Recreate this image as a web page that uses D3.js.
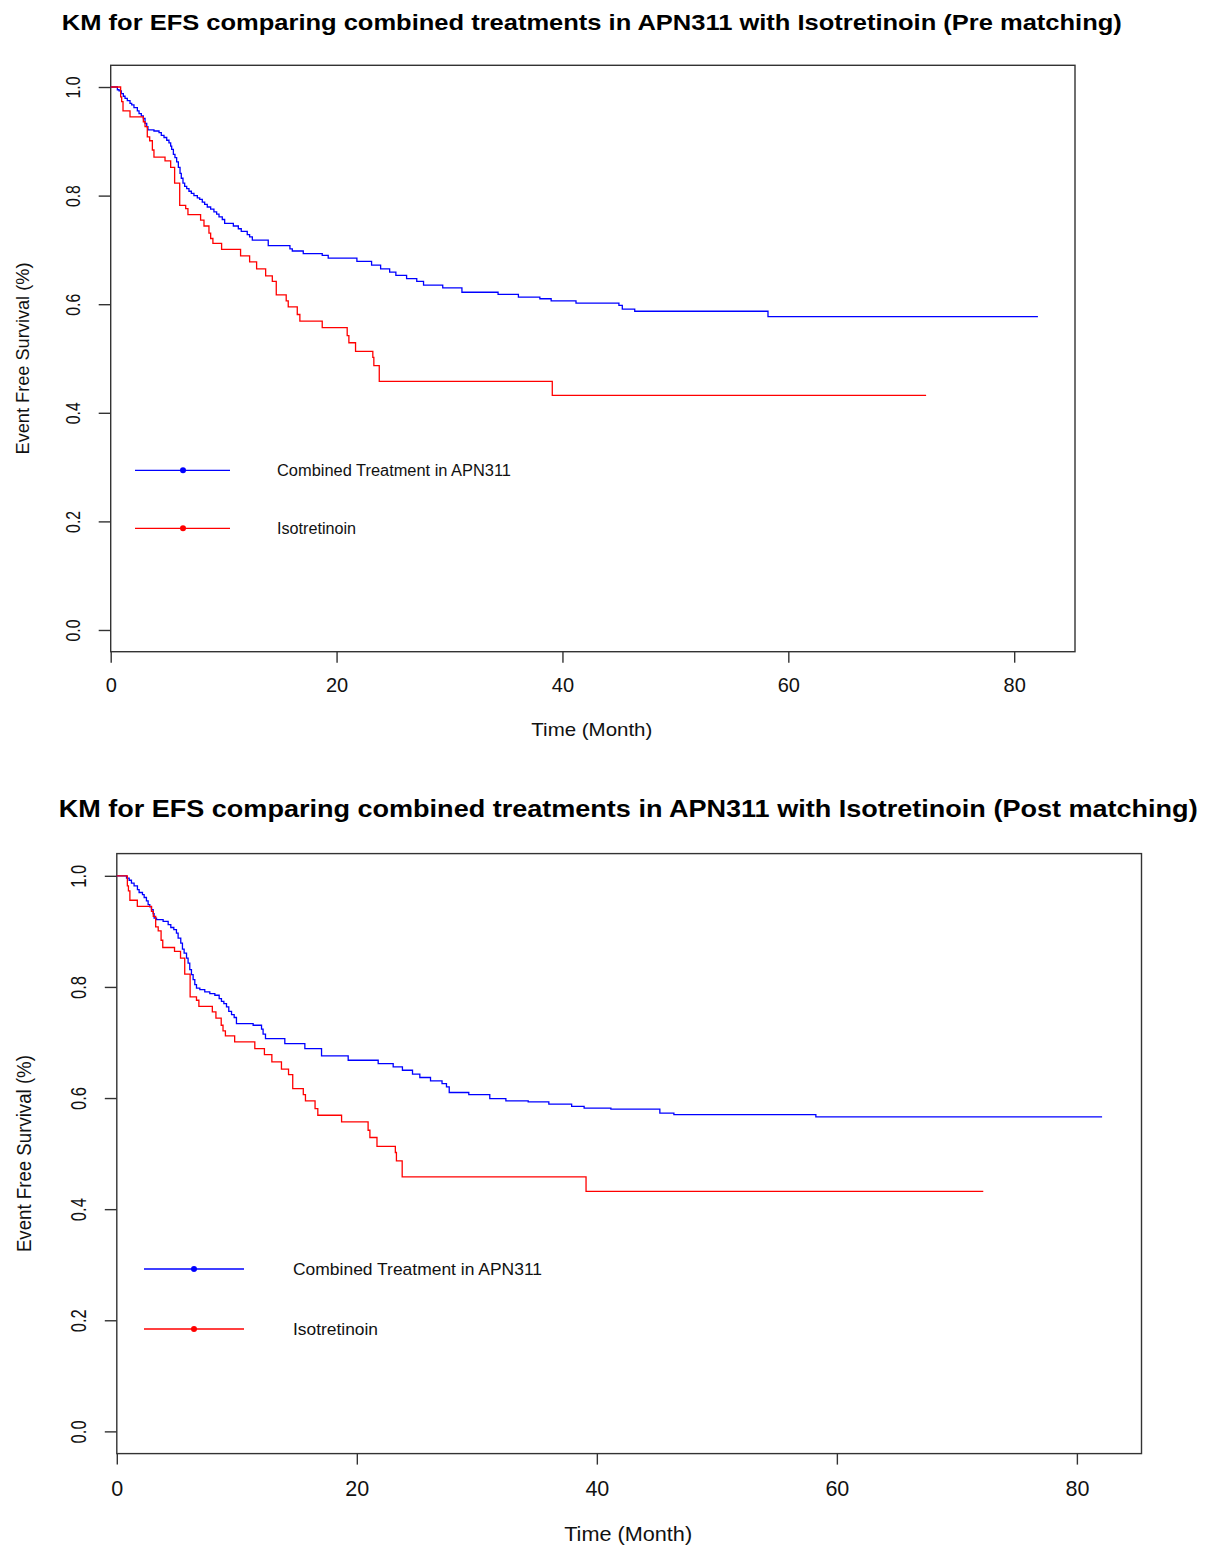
<!DOCTYPE html>
<html>
<head>
<meta charset="utf-8">
<script src="https://cdn.jsdelivr.net/npm/d3@7"></script>
<style>
  html, body { margin: 0; padding: 0; background: #fff; }
  svg { display: block; }
  text { font-family: "Liberation Sans", Arial, Helvetica, sans-serif; fill: #111; }
</style>
</head>
<body>
<script>
// ---------------- DATA ----------------
const titles = [
  "KM for EFS comparing combined treatments in APN311 with Isotretinoin (Pre matching)",
  "KM for EFS comparing combined treatments in APN311 with Isotretinoin (Post matching)"
];
const xAxisTitle = "Time (Month)";
const yAxisTitle = "Event Free Survival (%)";
const seriesNames = ["Combined Treatment in APN311", "Isotretinoin"];
const seriesColors = ["#0000ff", "#ff0000"];
const xTicks = [0, 20, 40, 60, 80];
const yTicks = [0.0, 0.2, 0.4, 0.6, 0.8, 1.0];
const yTickLabels = ["0.0", "0.2", "0.4", "0.6", "0.8", "1.0"];

// Isotretinoin arm (same in both panels): [time (months), survival]
const isotretinoin = [
  [0,1.0],[0.88,0.982],[0.97,0.973],[1.09,0.956],[1.71,0.945],[2.89,0.936],[3.04,0.927],
  [3.24,0.908],[3.45,0.901],[3.69,0.884],[3.83,0.871],[4.81,0.864],[5.31,0.852],[5.66,0.823],
  [6.11,0.782],[6.64,0.776],[6.84,0.765],[7.96,0.755],[8.26,0.744],[8.70,0.731],[8.85,0.721],
  [9.05,0.712],[9.82,0.701],[11.5,0.689],[12.3,0.678],[12.92,0.665],[13.72,0.652],[14.31,0.642],
  [14.66,0.617],[15.54,0.606],[15.72,0.595],[16.52,0.581],[16.75,0.569],[18.73,0.557],
  [20.94,0.542],[21.09,0.529],[21.68,0.513],[23.21,0.502],[23.30,0.487],[23.78,0.458],
  [39.1,0.432],[72.2,0.432]
];

// Combined treatment, pre matching
const combinedPre = [
  [0,1.0],[0.59,0.995],[0.74,0.993],[0.94,0.988],[1.12,0.983],[1.27,0.979],[1.47,0.975],
  [1.71,0.970],[1.86,0.967],[2.06,0.962],[2.36,0.956],[2.51,0.951],[2.71,0.947],[2.89,0.942],
  [3.04,0.933],[3.19,0.927],[3.30,0.921],[3.83,0.919],[4.28,0.916],[4.48,0.911],[4.72,0.907],
  [4.96,0.902],[5.16,0.897],[5.31,0.891],[5.40,0.885],[5.55,0.876],[5.69,0.870],[5.84,0.862],
  [5.99,0.852],[6.14,0.841],[6.25,0.832],[6.40,0.823],[6.55,0.817],[6.73,0.813],[6.93,0.808],
  [7.14,0.804],[7.37,0.800],[7.67,0.796],[7.88,0.793],[8.11,0.788],[8.32,0.784],[8.55,0.779],
  [8.85,0.775],[9.14,0.770],[9.38,0.766],[9.59,0.761],[9.88,0.756],[10.09,0.749],[10.86,0.744],
  [11.3,0.739],[11.56,0.734],[12.09,0.728],[12.3,0.724],[12.54,0.718],[13.95,0.708],[15.87,0.702],
  [16.08,0.698],[17.05,0.693],[18.73,0.690],[19.26,0.685],[21.8,0.679],[23.1,0.672],[23.9,0.665],
  [24.7,0.659],[25.25,0.653],[26.2,0.647],[27.1,0.642],[27.7,0.635],[29.4,0.630],[31.1,0.622],
  [34.3,0.618],[36.1,0.613],[38.0,0.610],[39.0,0.606],[41.2,0.602],[45.0,0.598],[45.3,0.591],
  [46.4,0.587],[58.2,0.577],[82.1,0.577]
];

// Combined treatment, post matching
const combinedPost = [
  [0,1.0],[0.81,0.996],[1.03,0.992],[1.22,0.987],[1.44,0.982],[1.72,0.975],[1.86,0.970],
  [2.14,0.966],[2.28,0.961],[2.47,0.955],[2.61,0.948],[2.75,0.944],[2.89,0.939],[3.03,0.932],
  [3.11,0.924],[3.31,0.921],[3.86,0.918],[4.28,0.912],[4.5,0.907],[4.75,0.903],[4.97,0.897],
  [5.11,0.888],[5.33,0.879],[5.47,0.868],[5.61,0.861],[5.81,0.852],[5.94,0.843],[6.08,0.831],
  [6.22,0.822],[6.36,0.813],[6.5,0.804],[6.64,0.798],[6.92,0.795],[7.33,0.791],[7.75,0.788],
  [8.17,0.785],[8.53,0.779],[8.72,0.774],[8.92,0.770],[9.14,0.764],[9.33,0.756],[9.56,0.750],
  [9.78,0.745],[9.97,0.734],[11.36,0.731],[12.06,0.724],[12.19,0.715],[12.39,0.707],[14.0,0.698],
  [15.67,0.689],[17.06,0.676],[19.28,0.668],[21.78,0.662],[23.03,0.656],[23.8,0.650],[24.64,0.643],
  [25.25,0.637],[26.14,0.631],[27.1,0.626],[27.47,0.620],[27.7,0.610],[29.33,0.606],[31.08,0.599],
  [32.42,0.595],[34.28,0.593],[36.0,0.589],[37.9,0.585],[38.94,0.582],[41.17,0.580],[45.25,0.573],
  [46.42,0.570],[58.25,0.566],[82.1,0.566]
];

// ---------------- LAYOUT ----------------
const W = 1207, H = 1547;
const panels = [
  { title: titles[0], series: [combinedPre, isotretinoin],
    left: 110.7, right: 1075, top: 65.3, bottom: 651.7,
    titleY: 29.5, titleSize: 22, titleLen: 1060,
    tickSize: 20, xTickY: 692, yTickX: 73, yTickLen: 22,
    xLabY: 736, xLabSize: 19, xLabLen: 121,
    yLabX: 22, yLabSize: 19, yLabLen: 192,
    leg: { x1: 135, x2: 230, dot: 183, tx: 277, ys: [470.3, 528.3], size: 16, lens: [234, 79] } },
  { title: titles[1], series: [combinedPost, isotretinoin],
    left: 116.8, right: 1141.5, top: 853.6, bottom: 1453.6,
    titleY: 817, titleSize: 23, titleLen: 1139,
    tickSize: 21.5, xTickY: 1496, yTickX: 78, yTickLen: 23,
    xLabY: 1541, xLabSize: 20, xLabLen: 128,
    yLabX: 24, yLabSize: 20, yLabLen: 197,
    leg: { x1: 144, x2: 244, dot: 194, tx: 293, ys: [1269, 1329], size: 17, lens: [249, 85] } }
];

const svg = d3.select("body").append("svg")
  .attr("width", W).attr("height", H)
  .attr("viewBox", `0 0 ${W} ${H}`);
svg.append("rect").attr("width", W).attr("height", H).attr("fill", "#fff");

const maxTime = d3.max([combinedPre, combinedPost, isotretinoin], s => d3.max(s, d => d[0]));

panels.forEach(p => {
  const g = svg.append("g");
  const x = d3.scaleLinear().domain([0, maxTime * 1.04]).range([p.left, p.right]);
  const y = d3.scaleLinear().domain([-0.04, 1.04]).range([p.bottom, p.top]);

  // title
  g.append("text")
    .attr("x", (p.left + p.right) / 2 - 1).attr("y", p.titleY)
    .attr("text-anchor", "middle")
    .attr("font-weight", "bold")
    .attr("font-size", p.titleSize)
    .attr("textLength", p.titleLen).attr("lengthAdjust", "spacingAndGlyphs")
    .style("fill", "#000")
    .text(p.title);

  // frame
  g.append("rect")
    .attr("x", p.left).attr("y", p.top)
    .attr("width", p.right - p.left).attr("height", p.bottom - p.top)
    .attr("fill", "none").attr("stroke", "#333").attr("stroke-width", 1.4);

  // x axis
  const xAxis = d3.axisBottom(x).tickValues(xTicks).tickSize(11).tickFormat(d3.format("d"));
  const xg = g.append("g").attr("transform", `translate(0,${p.bottom})`).call(xAxis);
  xg.select(".domain").remove();
  xg.selectAll(".tick line").attr("stroke", "#333").attr("stroke-width", 1.4);
  xg.selectAll(".tick text")
    .attr("y", p.xTickY - p.bottom).attr("dy", 0)
    .attr("font-size", p.tickSize)
    .attr("font-family", "Liberation Sans, Arial, sans-serif")
    .style("fill", "#111");

  // y axis
  const yAxis = d3.axisLeft(y).tickValues(yTicks).tickSize(12)
    .tickFormat((d, i) => yTickLabels[i]);
  const yg = g.append("g").attr("transform", `translate(${p.left},0)`).call(yAxis);
  yg.select(".domain").remove();
  yg.selectAll(".tick line").attr("stroke", "#333").attr("stroke-width", 1.4);
  yg.selectAll(".tick text")
    .attr("x", 0).attr("dy", 0)
    .attr("transform", `translate(${p.yTickX - p.left},0) rotate(-90)`)
    .attr("text-anchor", "middle")
    .attr("dy", "0.36em")
    .attr("font-size", p.tickSize)
    .attr("font-family", "Liberation Sans, Arial, sans-serif")
    .attr("textLength", p.yTickLen).attr("lengthAdjust", "spacingAndGlyphs")
    .style("fill", "#111");

  // axis titles
  g.append("text")
    .attr("x", (p.left + p.right) / 2 - 1).attr("y", p.xLabY)
    .attr("text-anchor", "middle").attr("font-size", p.xLabSize)
    .attr("textLength", p.xLabLen).attr("lengthAdjust", "spacingAndGlyphs")
    .text(xAxisTitle);
  g.append("text")
    .attr("transform", `translate(${p.yLabX},${(p.top + p.bottom) / 2}) rotate(-90)`)
    .attr("text-anchor", "middle").attr("dy", "0.36em").attr("font-size", p.yLabSize)
    .attr("textLength", p.yLabLen).attr("lengthAdjust", "spacingAndGlyphs")
    .text(yAxisTitle);

  // curves
  const line = d3.line().x(d => x(d[0])).y(d => y(d[1])).curve(d3.curveStepAfter);
  p.series.forEach((s, i) => {
    g.append("path").datum(s)
      .attr("d", line)
      .attr("fill", "none")
      .attr("stroke", seriesColors[i])
      .attr("stroke-width", 1.3);
  });

  // legend
  seriesNames.forEach((name, i) => {
    const ly = p.leg.ys[i];
    g.append("line")
      .attr("x1", p.leg.x1).attr("x2", p.leg.x2).attr("y1", ly).attr("y2", ly)
      .attr("stroke", seriesColors[i]).attr("stroke-width", 1.3);
    g.append("circle")
      .attr("cx", p.leg.dot).attr("cy", ly).attr("r", 3)
      .attr("fill", seriesColors[i]);
    g.append("text")
      .attr("x", p.leg.tx).attr("y", ly).attr("dy", "0.36em")
      .attr("font-size", p.leg.size)
      .attr("textLength", p.leg.lens[i]).attr("lengthAdjust", "spacingAndGlyphs")
      .text(name);
  });
});
</script>
</body>
</html>
